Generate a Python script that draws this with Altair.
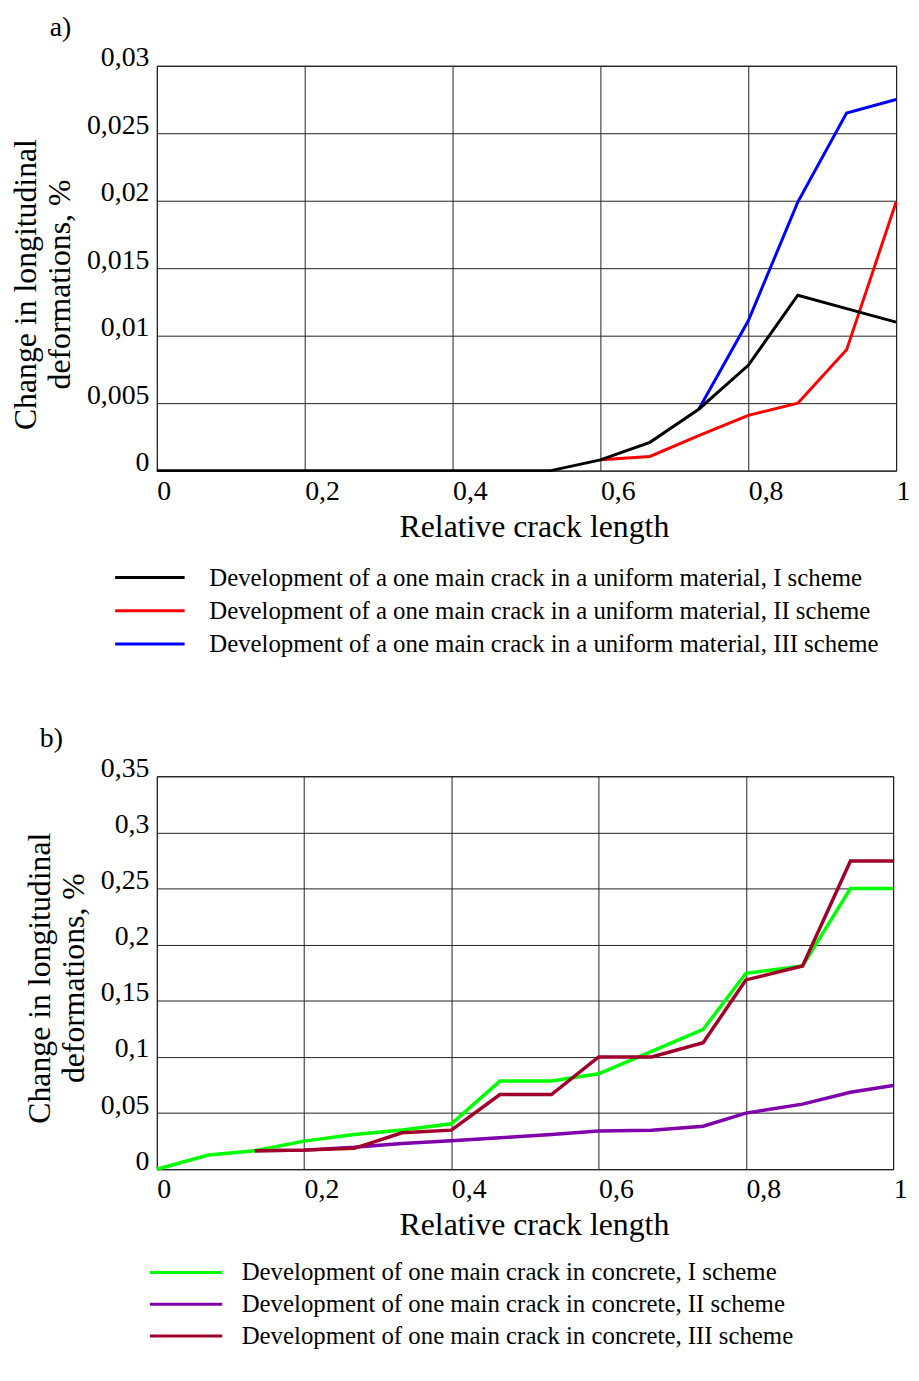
import altair as alt
import pandas as pd

FONT = "Liberation Serif"

# ---------------- Panel a) data ----------------
a_black_x = [0, 0.067, 0.133, 0.2, 0.267, 0.333, 0.4, 0.467, 0.533, 0.6, 0.667, 0.733, 0.8, 0.867, 0.933, 1]
a_black_y = [0, 0, 0, 0, 0, 0, 0, 0, 0, 0.0008, 0.0021, 0.00455, 0.0078, 0.013, 0.012, 0.011]
a_red_x = [0.6, 0.667, 0.733, 0.8, 0.867, 0.933, 1]
a_red_y = [0.0008, 0.00105, 0.0026, 0.0041, 0.005, 0.00895, 0.0199]
a_blue_x = [0.733, 0.8, 0.867, 0.933, 1]
a_blue_y = [0.00455, 0.0111, 0.0199, 0.0265, 0.0275]

a_names = [
    "Development of a one main crack in a uniform material, I scheme",
    "Development of a one main crack in a uniform material, II scheme",
    "Development of a one main crack in a uniform material, III scheme",
]
a_colors = ["#000000", "#ff0000", "#0000ff"]
a_yticks = [0, 0.005, 0.01, 0.015, 0.02, 0.025, 0.03]

# ---------------- Panel b) data ----------------
b_green_x = [0, 0.07, 0.133, 0.2, 0.268, 0.333, 0.4, 0.466, 0.536, 0.6, 0.672, 0.742, 0.8, 0.877, 0.942, 1]
b_green_y = [0, 0.0127, 0.0165, 0.025, 0.031, 0.035, 0.0405, 0.0785, 0.0785, 0.085, 0.105, 0.1245, 0.1745, 0.181, 0.25, 0.25]
b_purple_x = [0.133, 0.2, 0.268, 0.333, 0.4, 0.466, 0.536, 0.6, 0.672, 0.742, 0.8, 0.877, 0.942, 1]
b_purple_y = [0.0165, 0.017, 0.0195, 0.023, 0.0253, 0.028, 0.031, 0.034, 0.0347, 0.0383, 0.05, 0.058, 0.0686, 0.0745]
b_red_x = [0.133, 0.2, 0.268, 0.333, 0.4, 0.466, 0.536, 0.6, 0.672, 0.742, 0.8, 0.877, 0.942, 1]
b_red_y = [0.0165, 0.017, 0.0186, 0.0324, 0.0348, 0.0665, 0.0665, 0.1, 0.1, 0.1127, 0.1686, 0.181, 0.2745, 0.2745]

b_names = [
    "Development of one main crack in concrete, I scheme",
    "Development of one main crack in concrete, II scheme",
    "Development of one main crack in concrete, III scheme",
]
b_colors = ["#00ff00", "#7f00aa", "#a0002a"]
b_yticks = [0, 0.05, 0.1, 0.15, 0.2, 0.25, 0.3, 0.35]

x_ticks = [0, 0.2, 0.4, 0.6, 0.8, 1]
LABEL_EXPR = "replace(format(datum.value, '~g'), '.', ',')"


def frame(xs, ys, name):
    return pd.DataFrame({"x": xs, "y": ys, "series": [name] * len(xs)})


def panel(series, names, colors, ydom, yticks, w, h, title, title_dx, title_off,
          lx, ly, loff, rowpad, path, sw, ytitle_y):
    color = alt.Color(
        "series:N",
        scale=alt.Scale(domain=names, range=colors),
        legend=alt.Legend(
            title=None, orient="none", legendX=lx, legendY=ly,
            direction="vertical",
            symbolType=path, symbolSize=196, symbolStrokeWidth=3,
            labelFont=FONT, labelFontSize=25, labelColor="black",
            labelOffset=loff, labelLimit=0, rowPadding=rowpad,
        ),
    )
    xenc = alt.X(
        "x:Q",
        scale=alt.Scale(domain=[0, 1], nice=False, zero=False),
        axis=alt.Axis(values=x_ticks, title="Relative crack length",
                      labelExpr=LABEL_EXPR, labelFlush=False, labelAlign="left",
                      labelPadding=7, titlePadding=6, titleX=380),
    )
    yenc = alt.Y(
        "y:Q",
        scale=alt.Scale(domain=ydom, nice=False),
        axis=alt.Axis(values=yticks,
                      title=["Change in longitudinal", "deformations, %"],
                      labelExpr=LABEL_EXPR, labelBaseline="alphabetic",
                      labelPadding=8, titlePadding=10, titleLineHeight=34,
                      titleY=ytitle_y),
    )
    layers = [
        alt.Chart(df).mark_line(strokeWidth=sw).encode(x=xenc, y=yenc, color=color)
        for df in series
    ]
    return alt.layer(*layers).properties(
        width=w, height=h,
        title=alt.TitleParams(title, anchor="start", frame="group", dx=title_dx,
                              font=FONT, fontSize=28, fontWeight="normal",
                              color="black", offset=title_off),
    )


# draw order: black on top in a), dark red on top in b)
chart_a = panel(
    [frame(a_red_x, a_red_y, a_names[1]),
     frame(a_blue_x, a_blue_y, a_names[2]),
     frame(a_black_x, a_black_y, a_names[0])],
    a_names, a_colors, [0, 0.03], a_yticks, 745, 408, "a)", -108, 2,
    -19.5, 503.3, 47.3, 7.5, "M-5,0H5", 3, 220,
)
chart_b = panel(
    [frame(b_purple_x, b_purple_y, b_names[1]),
     frame(b_green_x, b_green_y, b_names[0]),
     frame(b_red_x, b_red_y, b_names[2])],
    b_names, b_colors, [0, 0.35], b_yticks, 742, 396, "b)", -118, 1,
    17, 487.5, 43.5, 6, "M-5.2,0H5.2", 3.5, 203,
)

chart = (
    alt.vconcat(chart_a, chart_b, spacing=67)
    .resolve_scale(color="independent")
    .resolve_legend(color="independent")
    .properties(padding={"left": 1, "top": 0, "right": 0, "bottom": 0})
    .configure_view(stroke="black", strokeWidth=1)
    .configure_axis(
        labelFont=FONT, labelFontSize=28, labelColor="black",
        titleFont=FONT, titleFontSize=32, titleFontWeight="normal", titleColor="black",
        ticks=False, domain=False,
        grid=True, gridColor="#222222", gridOpacity=1, gridWidth=1,
    )
)

chart.save("out.html", embed_options={"renderer": "svg", "actions": False})
